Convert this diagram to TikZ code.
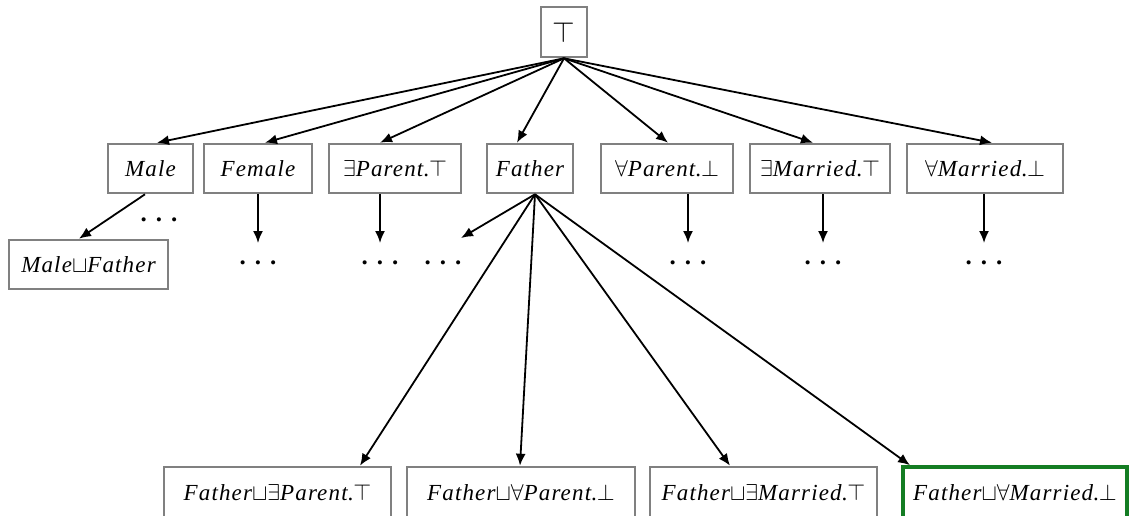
\RequirePackage{fix-cm}
\documentclass[tikz,border=0pt]{standalone}
\usepackage{fontspec}
\setmainfont{Liberation Serif}
\newfontfamily\conceptfont{Liberation Serif}[LetterSpace=5]
\usetikzlibrary{arrows.meta}

\definecolor{boxgray}{RGB}{128,128,128}
\definecolor{hlgreen}{RGB}{20,125,35}

% concept names in spaced italic, constructors as math symbols
\newcommand\cn[1]{{\conceptfont\itshape #1}}
\newcommand\dotsrow{.\hspace{9pt}.\hspace{9pt}.}

\tikzset{
  concept/.style={draw=boxgray, line width=2.6pt, fill=white, inner sep=0pt,
    minimum height=49pt, font=\fontsize{23}{27}\selectfont},
  hl/.style={draw=hlgreen, line width=3.6pt},
  edge/.style={line width=1.8pt, -{Latex[length=12pt,width=10pt]}},
  dotsn/.style={inner sep=0pt, font=\fontsize{25}{28}\selectfont\bfseries}
}

\begin{document}
\begin{tikzpicture}[x=1pt,y=-1pt]
\useasboundingbox (0,0) rectangle (1130,515);

% top concept
\node[concept, minimum width=46pt, minimum height=50pt,
      font=\fontsize{29}{32}\selectfont] (top) at (564,32) {$\top$};

% first level
\node[concept, minimum width=85pt]  (male)   at (150.5,168.5) {\cn{Male}};
\node[concept, minimum width=108pt] (female) at (258,168.5)   {\cn{Female}};
\node[concept, minimum width=132pt] (exP)    at (395,168.5)   {$\exists$\cn{Parent}.$\top$};
\node[concept, minimum width=86pt]  (father) at (530,168.5)   {\cn{Father}};
\node[concept, minimum width=132pt] (allP)   at (667,168.5)   {$\forall$\cn{Parent}.$\bot$};
\node[concept, minimum width=140pt] (exM)    at (820,168.5)   {$\exists$\cn{Married}.$\top$};
\node[concept, minimum width=156pt] (allM)   at (985,168.5)   {$\forall$\cn{Married}.$\bot$};

% second level
\node[concept, minimum width=159pt] (mf) at (88.5,264.5) {\cn{Male}$\sqcup$\cn{Father}};

% refinements of Father
\node[concept, minimum width=227pt, minimum height=52pt] (b1) at (277.5,493) {\cn{Father}$\sqcup\exists$\cn{Parent}.$\top$};
\node[concept, minimum width=228pt, minimum height=52pt] (b2) at (521,493)   {\cn{Father}$\sqcup\forall$\cn{Parent}.$\bot$};
\node[concept, minimum width=227pt, minimum height=52pt] (b3) at (763.5,493) {\cn{Father}$\sqcup\exists$\cn{Married}.$\top$};
\node[concept, hl, minimum width=224pt, minimum height=52pt] (b4) at (1015,493) {\cn{Father}$\sqcup\forall$\cn{Married}.$\bot$};

% omitted branches
\node[dotsn] (dmale) at (159,220) {\dotsrow};
\node[dotsn] (dfem)  at (258,263) {\dotsrow};
\node[dotsn] (dexP)  at (380,263) {\dotsrow};
\node[dotsn] (dfa)   at (443,263) {\dotsrow};
\node[dotsn] (dallP) at (688,263) {\dotsrow};
\node[dotsn] (dexM)  at (823,263) {\dotsrow};
\node[dotsn] (dallM) at (984,263) {\dotsrow};
\coordinate (dfatip) at ([xshift=18pt,yshift=25pt]dfa.center);

% edges from the top concept
\draw[edge] (top.south) -- ([xshift=6.5pt]male.north);
\draw[edge] (top.south) -- ([xshift=7pt]female.north);
\draw[edge] (top.south) -- ([xshift=-15pt]exP.north);
\draw[edge] (top.south) -- ([xshift=-13pt]father.north);
\draw[edge] (top.south) -- ([xshift=1pt]allP.north);
\draw[edge] (top.south) -- ([xshift=-7pt]exM.north);
\draw[edge] (top.south) -- ([xshift=7pt]allM.north);

% first level downwards
\draw[edge] ([xshift=-5.5pt]male.south) -- ([xshift=-9.5pt]mf.north);
\draw[edge] (female.south -| dfem) -- ([yshift=20pt]dfem.center);
\draw[edge] (exP.south -| dexP) -- ([yshift=20pt]dexP.center);
\draw[edge] (allP.south -| dallP) -- ([yshift=20pt]dallP.center);
\draw[edge] (exM.south -| dexM) -- ([yshift=20pt]dexM.center);
\draw[edge] (allM.south -| dallM) -- ([yshift=20pt]dallM.center);

% refinements of Father
\draw[edge] ([xshift=5pt]father.south) -- (dfatip);
\draw[edge] ([xshift=5pt]father.south) -- ([xshift=82.5pt]b1.north);
\draw[edge] ([xshift=5pt]father.south) -- ([xshift=-1pt]b2.north);
\draw[edge] ([xshift=5pt]father.south) -- ([xshift=-33.5pt]b3.north);
\draw[edge] ([xshift=5pt]father.south) -- ([xshift=-105pt]b4.north);
\end{tikzpicture}
\end{document}
